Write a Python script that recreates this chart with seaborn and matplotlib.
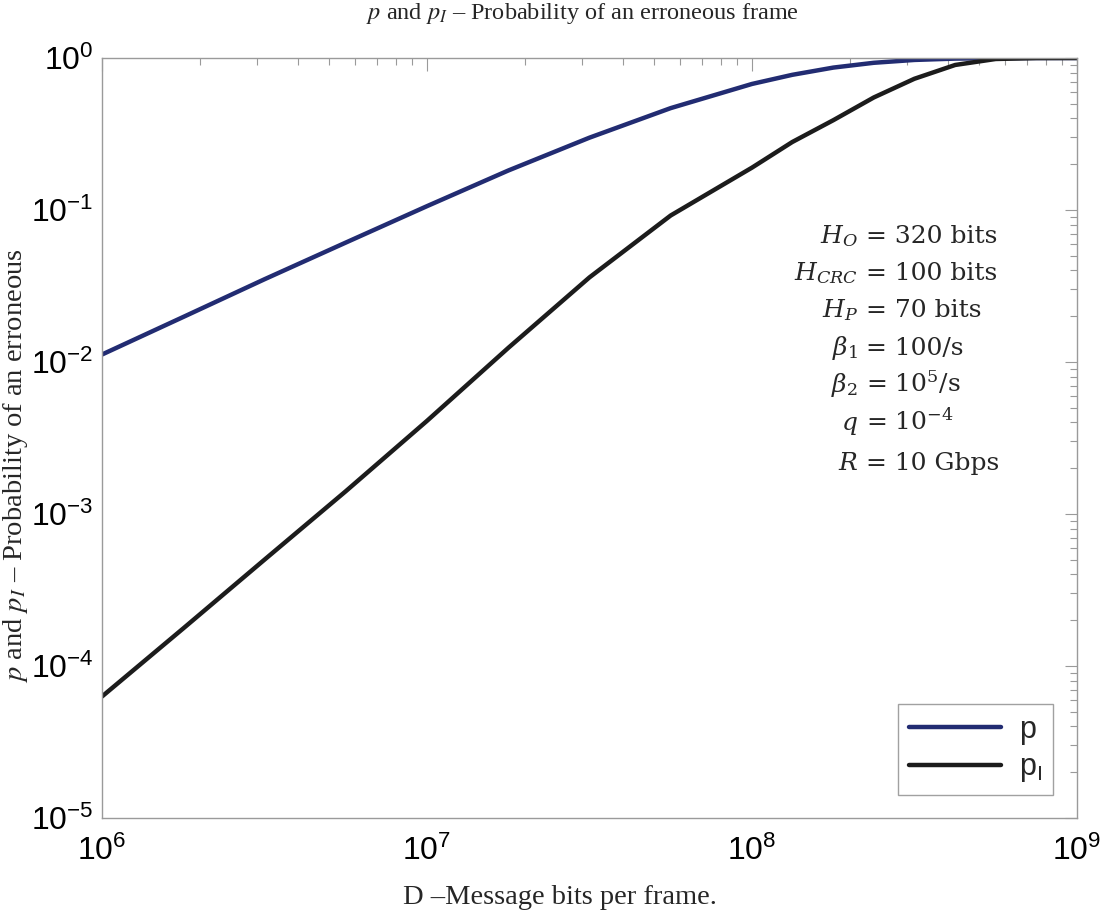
import numpy as np
import pandas as pd
import matplotlib
matplotlib.use("Agg")
import matplotlib.pyplot as plt
import seaborn as sns

# ---- data ----
D_bits = [1e6, 1.78e6, 3.16e6, 5.62e6, 1e7, 1.78e7, 3.16e7, 5.62e7, 1e8,
          1.33e8, 1.78e8, 2.37e8, 3.16e8, 4.22e8, 5.62e8, 7.5e8, 1e9]
p_vals = [0.0112, 0.0198, 0.035, 0.061, 0.106, 0.182, 0.299, 0.468, 0.675,
          0.775, 0.865, 0.930, 0.971, 0.991, 0.998, 1.0, 1.0]
pI_vals = [6.3e-5, 1.77e-4, 5.0e-4, 1.41e-3, 4.1e-3, 0.0124, 0.036, 0.092, 0.19,
           0.28, 0.39, 0.55, 0.73, 0.90, 0.985, 0.999, 1.0]
series_names = ["p", "pI"]
legend_labels = ["p", r"p$_{\mathregular{I}}$"]
param_left = [r"$H_O$", r"$H_{CRC}$", r"$H_P$", r"$\beta_1$", r"$\beta_2$", r"$q$", r"$R$"]
param_right = ["= 320 bits", "= 100 bits", "= 70 bits", "= 100/s",
               r"= 10$^5$/s", r"= 10$^{-4}$", "= 10 Gbps"]
title_text = r"$p$ and $p_I$ – Probability of an erroneous frame"
ylabel_text = r"$p$ and $p_I$ – Probability of an erroneous"
xlabel_text = "D –Message bits per frame."

df = pd.DataFrame({
    "D": D_bits * 2,
    "val": p_vals + pI_vals,
    "series": [series_names[0]] * len(D_bits) + [series_names[1]] * len(D_bits),
})

sns.set_style("white")
plt.rcParams["font.family"] = ["Liberation Sans", "DejaVu Sans"]

W, H = 1103, 913
fig = plt.figure(figsize=(W / 100, H / 100), dpi=100)
L, R, T, B = 102, 1077, 58, 818
ax = fig.add_axes([L / W, 1 - B / H, (R - L) / W, (B - T) / H])

colors = {"p": "#222c72", "pI": "#1c1c1c"}
sns.lineplot(data=df, x="D", y="val", hue="series", palette=colors,
             linewidth=3.2, ax=ax, legend=False)
ax.set_xscale("log")
ax.set_yscale("log")
ax.set_xlim(1e6, 1e9)
ax.set_ylim(1e-5, 1)
ax.set_xlabel("")
ax.set_ylabel("")

for s in ax.spines.values():
    s.set_color("#9a9a9a")
    s.set_linewidth(1.0)
ax.tick_params(which="both", direction="in", top=True, right=True,
               color="#9a9a9a", labelcolor="black", labelsize=23)
ax.tick_params(which="major", length=9, width=0.8)
ax.tick_params(which="minor", length=5, width=0.8)
ax.tick_params(axis="x", pad=13)
ax.tick_params(axis="y", pad=6)

lines = ax.get_lines()
leg = ax.legend(lines[:2], legend_labels, loc="lower right",
                bbox_to_anchor=(1 - 24 / 975, 23 / 760), borderaxespad=0,
                fontsize=22, frameon=True, fancybox=False, handlelength=3.0,
                handletextpad=0.6, borderpad=0.35, labelspacing=0.25)
leg.get_frame().set_edgecolor("#8a8a8a")
leg.get_frame().set_linewidth(1.0)

# parameters block, aligned on "="
eq_x = 866
base_y = [243, 280, 317, 355, 392, 430, 470]
for lt, rt, by in zip(param_left, param_right, base_y):
    fig.text((eq_x - 8) / W, 1 - by / H, lt, ha="right", va="baseline",
             fontsize=18, family="DejaVu Serif", math_fontfamily="dejavuserif")
    fig.text(eq_x / W, 1 - by / H, rt, ha="left", va="baseline",
             fontsize=18, family="DejaVu Serif", math_fontfamily="dejavuserif")

fig.text(582 / W, 1 - 14 / H, title_text, ha="center", va="center",
         fontsize=17.5, family="Liberation Serif", math_fontfamily="stix")
fig.text(16 / W, 1 - 466 / H, ylabel_text, ha="center", va="center", rotation=90,
         fontsize=20.5, family="Liberation Serif", math_fontfamily="stix")
fig.text(560 / W, 1 - 897 / H, xlabel_text, ha="center", va="center",
         fontsize=20.5, family="Liberation Serif")

fig.savefig("out.png", dpi=100, facecolor="white")
